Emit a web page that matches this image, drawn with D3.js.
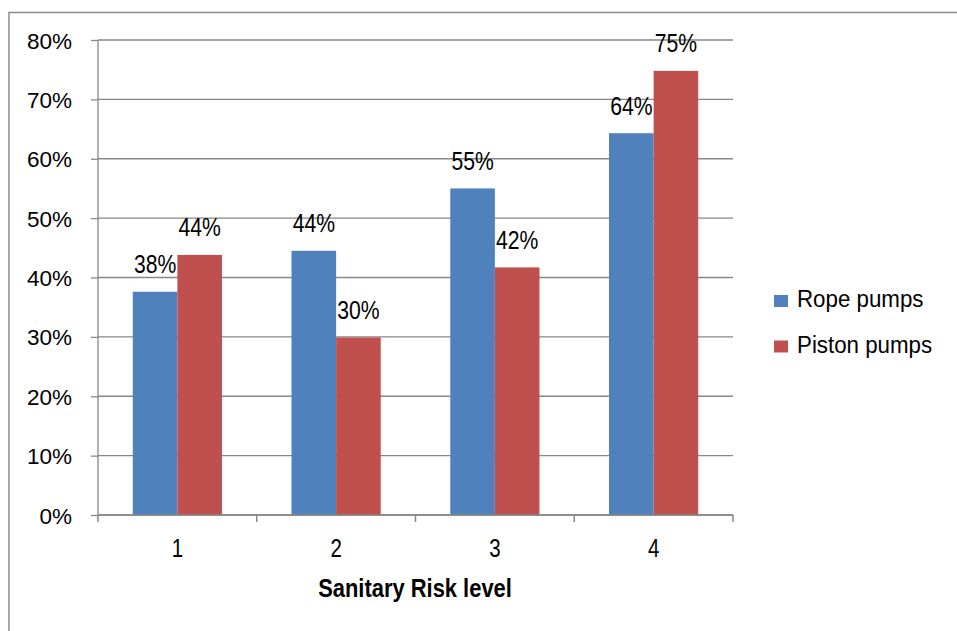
<!DOCTYPE html>
<html>
<head>
<meta charset="utf-8">
<script src="https://cdn.jsdelivr.net/npm/d3@7"></script>
<style>
  html, body { margin: 0; padding: 0; background: #fff; }
  svg { display: block; }
</style>
</head>
<body>
<svg id="chart" width="957" height="631"></svg>
<script>
const categories = ["1", "2", "3", "4"];
const seriesNames = ["Rope pumps", "Piston pumps"];
const ropeValues = [0.376, 0.445, 0.550, 0.643];
const pistonValues = [0.438, 0.299, 0.417, 0.748];
const ropeLabels = ["38%", "44%", "55%", "64%"];
const pistonLabels = ["44%", "30%", "42%", "75%"];
const yTicks = [0, 0.1, 0.2, 0.3, 0.4, 0.5, 0.6, 0.7, 0.8];
const colors = ["#4F81BD", "#C0504D"];
const xTitle = "Sanitary Risk level";

const svg = d3.select("#chart");
const gridColor = "#878787";
const regFont = "'Liberation Sans', Arial, sans-serif";

// outer chart-area frame
svg.append("path")
  .attr("d", "M9,631 L9,12.5 L957,12.5")
  .attr("fill", "none").attr("stroke", "#8c8c8c").attr("stroke-width", 1.5);

const plot = { left: 98, right: 733, top: 40, bottom: 515 };

const y = d3.scaleLinear().domain([0, 0.8]).range([plot.bottom, plot.top]);
const x0 = d3.scaleBand().domain(categories).range([plot.left, plot.right]).paddingInner(0).paddingOuter(0);
const barW = 44.6;
const x1 = d3.scaleBand().domain(seriesNames)
  .range([x0.bandwidth() / 2 - barW, x0.bandwidth() / 2 + barW]);

// gridlines + y ticks
const yAxis = d3.axisLeft(y).tickValues(yTicks).tickSize(7).tickFormat(d3.format(".0%"));
const gy = svg.append("g").attr("transform", `translate(${plot.left},0)`).call(yAxis);
gy.select(".domain").remove();
gy.selectAll(".tick line").attr("stroke", gridColor).attr("stroke-width", 1.3);
gy.selectAll(".tick text")
  .attr("x", -26).attr("dy", "0.36em")
  .style("font-family", regFont).style("font-size", "22.5px").attr("fill", "#000");
svg.append("g").selectAll("line").data(yTicks).join("line")
  .attr("x1", plot.left).attr("x2", plot.right)
  .attr("y1", d => y(d)).attr("y2", d => y(d))
  .attr("stroke", gridColor).attr("stroke-width", 1.3);
// y axis line
svg.append("line").attr("x1", plot.left).attr("x2", plot.left)
  .attr("y1", plot.top).attr("y2", plot.bottom)
  .attr("stroke", gridColor).attr("stroke-width", 1.3);

// bars
const data = categories.map((c, i) => ({
  cat: c,
  vals: [
    { s: seriesNames[0], v: ropeValues[i], lab: ropeLabels[i], col: colors[0] },
    { s: seriesNames[1], v: pistonValues[i], lab: pistonLabels[i], col: colors[1] }
  ]
}));

const groups = svg.append("g").selectAll("g").data(data).join("g")
  .attr("transform", d => `translate(${x0(d.cat)},0)`);
groups.selectAll("rect").data(d => d.vals).join("rect")
  .attr("x", d => x1(d.s)).attr("width", x1.bandwidth())
  .attr("y", d => y(d.v)).attr("height", d => y(0) - y(d.v))
  .attr("fill", d => d.col);

// x axis
const xAxisLine = svg.append("g");
xAxisLine.append("line").attr("x1", plot.left).attr("x2", plot.right)
  .attr("y1", plot.bottom).attr("y2", plot.bottom)
  .attr("stroke", gridColor).attr("stroke-width", 1.5);
const bounds = categories.map(c => x0(c)).concat([plot.right]);
xAxisLine.selectAll("line.tk").data(bounds).join("line").attr("class", "tk")
  .attr("x1", d => d).attr("x2", d => d)
  .attr("y1", plot.bottom).attr("y2", plot.bottom + 7)
  .attr("stroke", gridColor).attr("stroke-width", 1.5);
svg.append("g").selectAll("text").data(categories).join("text")
  .attr("transform", d => `translate(${x0(d) + x0.bandwidth() / 2},557) scale(0.82,1)`)
  .attr("text-anchor", "middle")
  .style("font-family", regFont).style("font-size", "25px")
  .text(d => d);

// data labels
groups.selectAll("text").data(d => d.vals).join("text")
  .attr("transform", d => `translate(${x1(d.s) + x1.bandwidth() / 2},${y(d.v) - 18.5}) scale(0.83,1)`)
  .attr("text-anchor", "middle")
  .style("font-family", regFont).style("font-size", "25.5px")
  .text(d => d.lab);

// x title
svg.append("text").attr("transform", "translate(415,597) scale(0.86,1)")
  .attr("text-anchor", "middle")
  .style("font-family", regFont).style("font-size", "25.5px").style("font-weight", "bold")
  .text(xTitle);

// legend
const legend = svg.append("g");
const legY = [307, 352.5];
seriesNames.forEach((s, i) => {
  legend.append("rect").attr("x", 774).attr("y", legY[i] - 12).attr("width", 14).attr("height", 12)
    .attr("fill", colors[i]);
  legend.append("text").attr("transform", `translate(797,${legY[i]}) scale(0.95,1)`)
    .style("font-family", regFont).style("font-size", "23.5px")
    .text(s);
});
</script>
</body>
</html>
